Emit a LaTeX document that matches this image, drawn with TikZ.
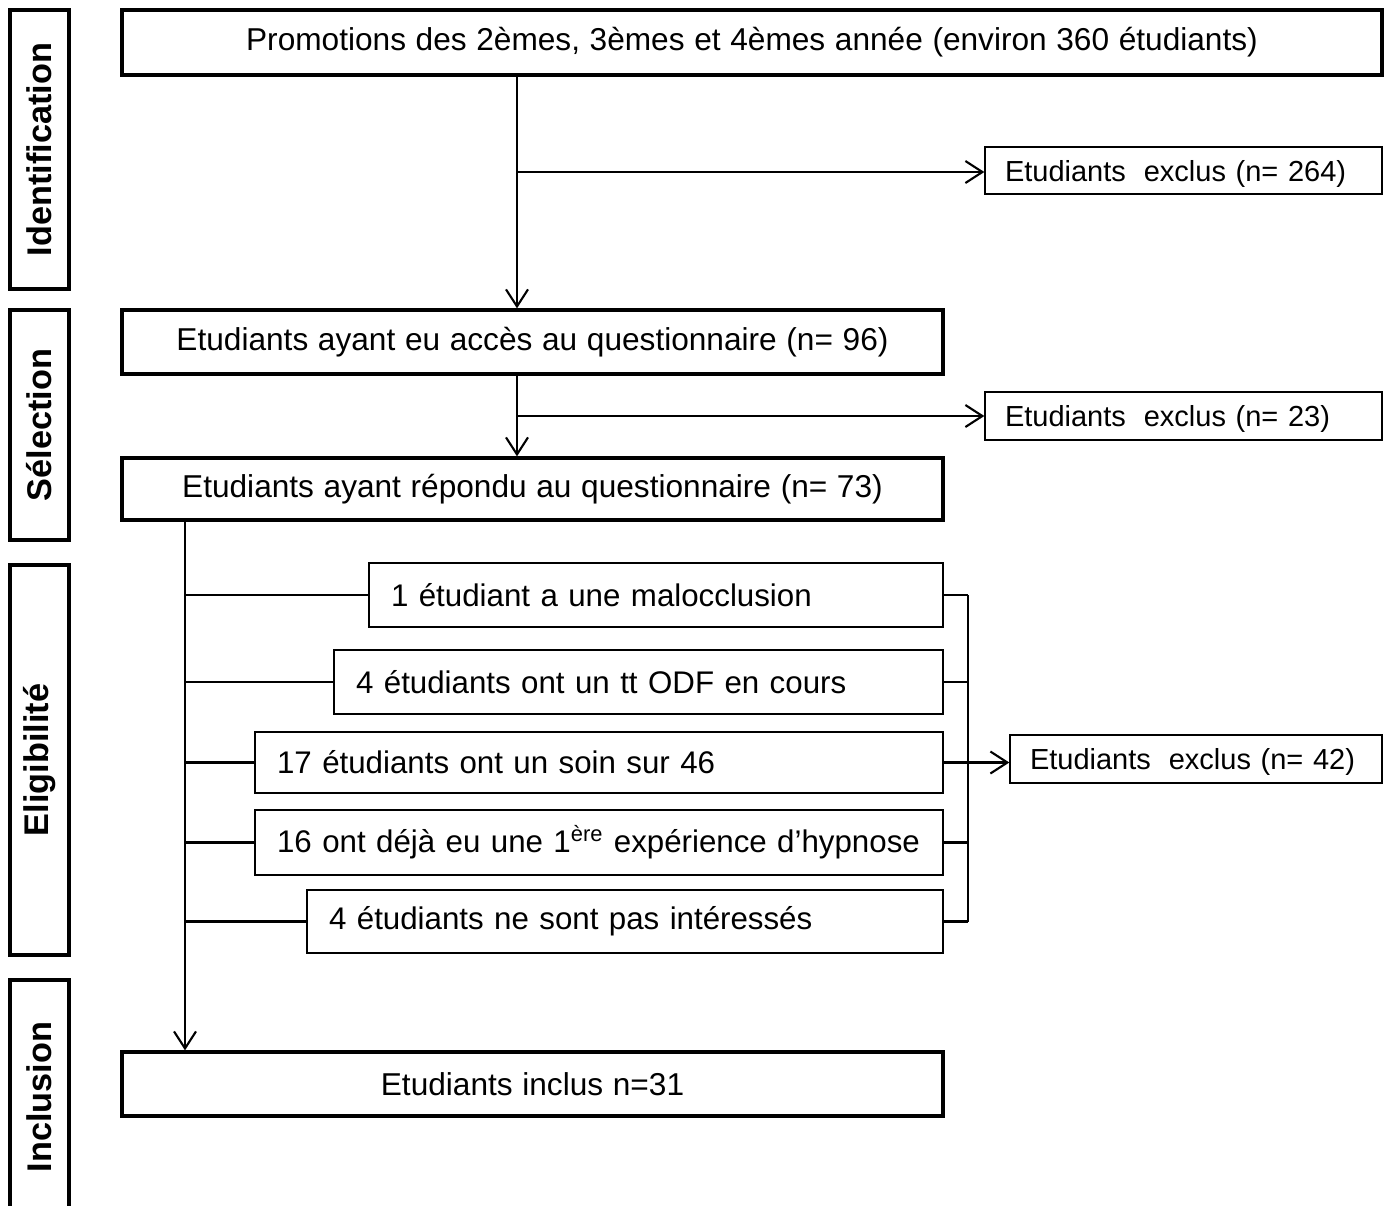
\documentclass[tikz,border=0pt]{standalone}
\usepackage{fontspec}
\setmainfont[WordSpace = 1.1]{Liberation Sans}
\usepackage{tikz}
\usetikzlibrary{arrows.meta}
\usetikzlibrary{positioning}
\tikzset{phase/.style = {draw, line width = 2.2pt, rotate = 90, minimum height = 1.18cm,
    font = \fontsize{19.5}{23}\selectfont\bfseries}}
\tikzset{mainbox/.style = {draw, line width = 1.9pt, font = \fontsize{18}{21}\selectfont}}
\tikzset{subbox/.style = {draw, line width = 0.8pt, align = left, inner xsep = 0.44cm,
    font = \fontsize{17.8}{21}\selectfont}}
\tikzset{exclbox/.style = {subbox, inner xsep = 0.4cm, text depth = 0pt, font = \fontsize{16.5}{19}\selectfont}}
\tikzset{conn/.style = {line width = 1.2pt}}
\tikzset{arr/.style = {conn, -{Straight Barb[length = 3.4mm, width = 4.4mm, line width = 1.2pt]}}}
\newcommand{\exclgap}{\hspace{0.36cm}}

\begin{document}
\begin{tikzpicture}[x = 0.02cm, y = -0.02cm]
    \useasboundingbox (0, 0) rectangle (1389, 1205);

    % phases
    \node [phase, minimum width = 5.58cm] (ident) at (39.5, 149.5) {Identification};
    \node [phase, minimum width = 4.6cm] (selec) at (39.5, 425) {Sélection};
    \node [phase, minimum width = 7.8cm] (eligi) at (39.5, 760) {Eligibilité};
    \node [phase, minimum width = 4.68cm] (inclu) at (39.5, 1097) {Inclusion};

    % main column
    \node [mainbox, minimum width = 25.2cm, minimum height = 1.3cm] (promo) at (752, 42.5)
      {Promotions des 2èmes, 3èmes et 4èmes année (environ 360 étudiants)};
    \node [mainbox, minimum width = 16.42cm, minimum height = 1.28cm] (acces) at (532.5, 342)
      {Etudiants ayant eu accès au questionnaire (n= 96)};
    \node [mainbox, minimum width = 16.42cm, minimum height = 1.24cm] (repondu) at (532.5, 489)
      {Etudiants ayant répondu au questionnaire (n= 73)};
    \node [mainbox, minimum width = 16.42cm, minimum height = 1.28cm] (inclus) at (532.5, 1084)
      {Etudiants inclus n=31};

    % exclusions
    \node [exclbox, text width = 7.14cm, minimum height = 0.94cm] (exclA) at (1183.5, 170.5)
      {\mbox{Etudiants\exclgap exclus (n= 264)}};
    \node [exclbox, text width = 7.14cm, minimum height = 0.96cm] (exclB) at (1183.5, 416)
      {\mbox{Etudiants\exclgap exclus (n= 23)}};
    \node [exclbox, text width = 6.64cm, minimum height = 0.96cm] (exclC) at (1196, 759)
      {\mbox{Etudiants\exclgap exclus (n= 42)}};

    % reasons
    \node [subbox, text width = 10.6cm, minimum height = 1.28cm] (malo) at (656, 595)
      {\mbox{1 étudiant a une malocclusion}};
    \node [subbox, text width = 11.3cm, minimum height = 1.28cm] (odf) at (638.5, 682)
      {\mbox{4 étudiants ont un tt ODF en cours}};
    \node [subbox, text width = 12.88cm, minimum height = 1.22cm] (soin) at (599, 762.5)
      {\mbox{17 étudiants ont un soin sur 46}};
    \node [subbox, text width = 12.88cm, minimum height = 1.3cm] (hypno) at (599, 842.5)
      {\mbox{16 ont déjà eu une 1\textsuperscript{ère} expérience d’hypnose}};
    \node [subbox, text width = 11.84cm, minimum height = 1.26cm] (interet) at (625, 921.5)
      {\mbox{4 étudiants ne sont pas intéressés}};

    \coordinate (splitA) at (517, 172);
    \coordinate (splitB) at (517, 416);
    \coordinate (trunk) at (185, 0);
    \coordinate (brk) at (968, 0);

    \draw [arr] (promo.south -| splitA) -- (acces.north -| splitA);
    \draw [arr] (splitA) -- (splitA -| exclA.west);
    \draw [arr] (acces.south -| splitB) -- (repondu.north -| splitB);
    \draw [arr] (splitB) -- (splitB -| exclB.west);
    \draw [arr] (repondu.south -| trunk) -- (inclus.north -| trunk);

    \foreach \r in {malo, odf, soin, hypno, interet} {
      \draw [conn] (trunk |- \r.west) -- (\r.west);
      \draw [conn] (\r.east) -- (\r.east -| brk);
    }
    \draw [conn] (brk |- malo.east) -- (brk |- interet.east);
    \draw [arr] (soin.east) -- (soin.east -| exclC.west);
  \end{tikzpicture}
\end{document}
